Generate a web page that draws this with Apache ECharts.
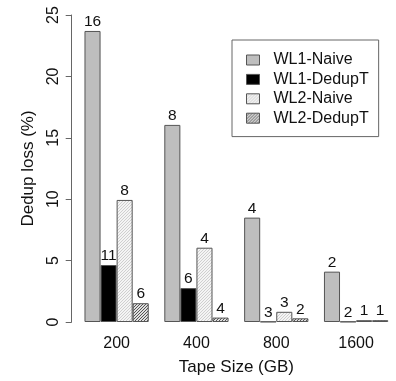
<!DOCTYPE html>
<html><head><meta charset="utf-8">
<script src="https://cdn.jsdelivr.net/npm/echarts@6/dist/echarts.min.js"></script>
<style>html,body{margin:0;padding:0;background:#fff}#c{width:396px;height:381px}</style>
</head><body><div id="c"></div>
<script>
const categories = ['200', '400', '800', '1600'];
const seriesNames = ['WL1-Naive', 'WL1-DedupT', 'WL2-Naive', 'WL2-DedupT'];
const wl1Naive = [23.7, 16.05, 8.5, 4.1];
const wl1DedupT = [4.64, 2.76, 0.03, 0.03];
const wl2Naive = [9.94, 6.05, 0.83, 0.15];
const wl2DedupT = [1.53, 0.36, 0.3, 0.15];
const wl1NaiveLabels = ['16', '8', '4', '2'];
const wl1DedupTLabels = ['11', '6', '3', '2'];
const wl2NaiveLabels = ['8', '4', '3', '1'];
const wl2DedupTLabels = ['6', '4', '2', '1'];
const yTicks = [0, 5, 10, 15, 20, 25];

function makePattern(bg, fg, step, lw) {
  const s = step * 4;
  const c = document.createElement('canvas');
  c.width = s; c.height = s;
  const g = c.getContext('2d');
  g.fillStyle = bg; g.fillRect(0, 0, s, s);
  g.strokeStyle = fg; g.lineWidth = lw;
  for (let k = -s; k <= 2 * s; k += step) {
    g.beginPath(); g.moveTo(k - s, s); g.lineTo(k, 0); g.stroke();
  }
  return { image: c, repeat: 'repeat' };
}

const fills = [
  '#bebebe',
  '#000000',
  makePattern('#f4f4f4', '#cfcfcf', 3, 1),
  makePattern('#e0e0e0', '#555555', 3, 1)
];
const values = [wl1Naive, wl1DedupT, wl2Naive, wl2DedupT];
const labels = [wl1NaiveLabels, wl1DedupTLabels, wl2NaiveLabels, wl2DedupTLabels];
const FONT = 'Liberation Sans';

const chart = echarts.init(document.getElementById('c'), null, { renderer: 'canvas' });
chart.setOption({
  animation: false,
  textStyle: { fontFamily: FONT },
  grid: { left: 76.7, right: -8.7, top: 15, bottom: 54.3, containLabel: false },
  legend: {
    orient: 'vertical', left: 232, top: 40,
    padding: [12, 10, 10.4, 14],
    borderColor: '#666', borderWidth: 1,
    icon: 'rect',
    itemWidth: 13, itemHeight: 10, itemGap: 3.4,
    itemStyle: { borderColor: '#555', borderWidth: 1 },
    textStyle: { fontFamily: FONT, fontSize: 16, color: '#111', padding: [0, 0, 0, 9], lineHeight: 16 },
    data: seriesNames
  },
  xAxis: {
    type: 'category', data: categories,
    axisLine: { show: false }, axisTick: { show: false },
    axisLabel: { fontFamily: FONT, fontSize: 16, color: '#111', margin: 14 },
    name: 'Tape Size (GB)', nameLocation: 'middle', nameGap: 37,
    nameTextStyle: { fontFamily: FONT, fontSize: 17, color: '#111' }
  },
  yAxis: {
    type: 'value', min: 0, max: 25, interval: 5, offset: 5,
    splitLine: { show: false },
    axisLine: { show: true, lineStyle: { color: '#666', width: 1 } },
    axisTick: { show: true, length: 6, lineStyle: { color: '#666' } },
    axisLabel: { fontFamily: FONT, fontSize: 16, color: '#111', rotate: 90, margin: 10,
      formatter: v => yTicks.includes(v) ? String(v) : '' },
    name: 'Dedup loss (%)', nameLocation: 'middle', nameGap: 35, nameRotate: 90,
    nameTextStyle: { fontFamily: FONT, fontSize: 17, color: '#111' }
  },
  series: seriesNames.map((n, i) => ({
    name: n, type: 'bar', data: values[i],
    barGap: '0%', barCategoryGap: '19.5%',
    itemStyle: { color: fills[i], borderColor: '#555', borderWidth: 1 },
    label: { show: true, position: 'top', distance: 1, fontFamily: FONT, fontSize: 15.5, color: '#111',
      formatter: p => labels[i][p.dataIndex] }
  }))
});
</script></body></html>
